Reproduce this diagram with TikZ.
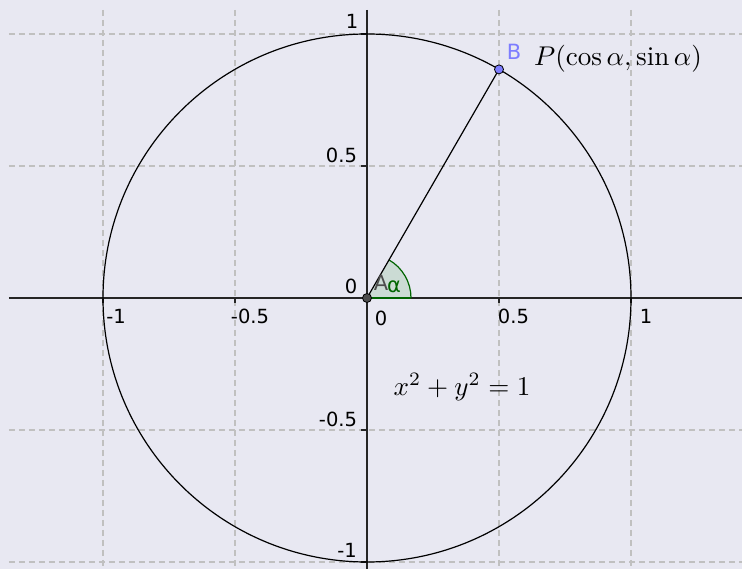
\documentclass[tikz,border=0pt]{standalone}
\usepackage{fontspec}
\setsansfont{DejaVu Sans}
\definecolor{bgc}{RGB}{232,232,242}
\definecolor{gridc}{RGB}{192,192,192}
\definecolor{axisc}{RGB}{37,37,37}
\definecolor{ptB}{RGB}{125,125,255}
\definecolor{labB}{RGB}{125,125,255}
\definecolor{angc}{RGB}{0,100,0}
\definecolor{ptA}{RGB}{77,77,77}
\tikzset{
  gridline/.style={draw=gridc, line width=1.2pt, dash pattern=on 6pt off 4pt},
  axisline/.style={draw=axisc, line width=1.2pt},
  ticklab/.style={font=\sffamily, scale=1.95, text=black, inner sep=0pt},
  mathlab/.style={inner sep=0pt, scale=2.71},
  ptlab/.style={font=\sffamily, scale=2.1, inner sep=0pt, anchor=base},
}
\begin{document}
\begin{tikzpicture}[x=1pt,y=1pt]
\useasboundingbox[fill=bgc] (-367,-271) rectangle (375,298);
% grid
\foreach \gx in {-264,-132,132,264}{
  \draw[gridline] (\gx,288) -- (\gx,-271);
}
\foreach \gy in {264,132,-132,-264}{
  \draw[gridline] (-358,\gy) -- (375,\gy);
}
% axes
\draw[axisline] (-358,0) -- (375,0);
\draw[axisline] (0,288) -- (0,-271);
\foreach \t in {-264,-132,132,264}{
  \draw[axisline] (\t,0) -- (\t,-5);
  \draw[axisline] (0,\t) -- (-6,\t);
}
% tick labels
\node[ticklab, anchor=base] (xm1) at (-251,-25.5) {-1};
\node[ticklab, anchor=base] (xm05) at (-117,-25.5) {-0.5};
\node[ticklab, anchor=base] (x0) at (14,-27.5) {0};
\node[ticklab, anchor=base] (x05) at (146.5,-25.5) {0.5};
\node[ticklab, anchor=base] (x1) at (279,-25.5) {1};
\node[ticklab, anchor=base] (y1) at (-15,269) {1};
\node[ticklab, anchor=base] (y05) at (-25.5,135.5) {0.5};
\node[ticklab, anchor=base] (y0) at (-16,4) {0};
\node[ticklab, anchor=base] (ym05) at (-29,-129) {-0.5};
\node[ticklab, anchor=base] (ym1) at (-20,-260) {-1};
% circle
\draw[black, line width=1.2pt] (0,0) circle (264);
% angle sector
\fill[green!50!black, fill opacity=0.12] (0,0) -- (44,0) arc (0:60:44) -- cycle;
\draw[angc, line width=1.2pt] (44,0) arc (0:60:44);
\draw[angc, line width=1.2pt] (0,0) -- (44,0);
% segment
\coordinate (O) at (0,0);
\coordinate (Bp) at (132,228.6);
\draw[black, line width=1.2pt] (O) -- (Bp);
% points
\node[circle, fill=ptA, draw=black, line width=0.8pt, minimum size=9pt, inner sep=0pt] (A) at (O) {};
\node[circle, fill=ptB, draw=black, line width=0.8pt, minimum size=9pt, inner sep=0pt] (B) at (Bp) {};
% labels
\node[ptlab, text=ptA] (Alab) at (14,7) {A};
\node[ptlab, text=angc] (alab) at (27,5) {α};
\node[ptlab, text=labB] (Blab) at (147,238) {B};
\node[mathlab] (P) at (251,239) {$P(\cos\alpha,\sin\alpha)$};
\node[mathlab] (eq) at (95,-89) {$x^2+y^2=1$};
\end{tikzpicture}
\end{document}
